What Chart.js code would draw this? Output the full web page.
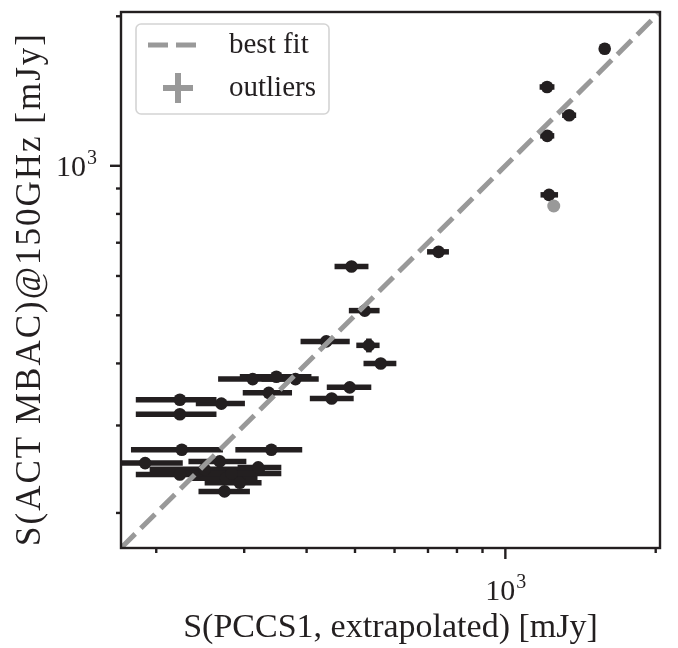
<!DOCTYPE html>
<html>
<head>
<meta charset="utf-8">
<script src="https://cdn.jsdelivr.net/npm/chart.js@4.4.1/dist/chart.umd.min.js"></script>
<style>
  html, body { margin: 0; padding: 0; background: #ffffff; }
  #wrap { width: 678px; height: 648px; }
</style>
</head>
<body>
<div id="wrap"><canvas id="chart"></canvas></div>
<script>
// fluxos (mJy)
const pccsFlux = [1581, 1212, 1342, 1213, 1223, 735, 492, 523, 438, 533, 563, 312, 348, 380, 336, 488,
    449, 270, 223, 223, 225, 340, 190, 223, 268, 276, 320, 274, 250, 294, 283]
const actFlux = [1721, 1441, 1264, 1149, 874, 671, 627, 511, 443, 435, 400, 372, 376, 372, 349, 358,
    340, 332, 338, 316, 268, 268, 252, 239, 254, 235, 247, 221, 245, 230, 240]
const pccsLow = [1545, 1171, 1299, 1174, 1176, 697, 455, 486, 389, 503, 520, 266, 294, 325, 298, 439,
    406, 240, 182, 182, 178, 288, 160, 182, 232, 233, 291, 243, 194, 250, 218]
const pccsHigh = [1618, 1254, 1386, 1253, 1275, 771, 532, 560, 488, 560, 605, 370, 409, 423, 374, 539,
    497, 301, 264, 264, 272, 392, 226, 263, 303, 319, 356, 308, 330, 325, 356]
const actLow = [1680, 1441, 1264, 1149, 874, 671, 627, 511, 443, 421, 400, 372, 376, 372, 349, 358,
    340, 332, 338, 316, 268, 268, 252, 239, 254, 235, 247, 221, 245, 230, 240]
const actHigh = [1765, 1441, 1264, 1149, 874, 671, 627, 511, 443, 449, 400, 372, 376, 372, 349, 358,
    340, 332, 338, 316, 268, 268, 252, 239, 254, 235, 247, 221, 245, 230, 240]

const outlierX = [1250]
const outlierY = [830]

const bestFitX = [170, 2040]
const bestFitY = [170, 2040]

const axisMin = 170
const axisMax = 2040
const labeledTick = 1000

const corPonto = '#231f20'
const corCinza = '#999999'
const fonteSerif = '"Liberation Serif", "DejaVu Serif", serif'

function montarPontos(xs, ys) {
    return xs.map((x, i) => ({ x: x, y: ys[i] }))
}

// barras de erro desenhadas pelas escalas do próprio chart
const errorBarsPlugin = {
    id: 'errorBars',
    beforeDatasetsDraw(chart) {
        const { ctx, chartArea, scales } = chart
        ctx.save()
        ctx.beginPath()
        ctx.rect(chartArea.left, chartArea.top, chartArea.width, chartArea.height)
        ctx.clip()
        ctx.strokeStyle = corPonto
        ctx.lineWidth = 5.5
        ctx.lineCap = 'butt'
        pccsFlux.forEach((x, i) => {
            const py = scales.y.getPixelForValue(actFlux[i])
            ctx.beginPath()
            ctx.moveTo(scales.x.getPixelForValue(pccsLow[i]), py)
            ctx.lineTo(scales.x.getPixelForValue(pccsHigh[i]), py)
            ctx.stroke()
            if (actLow[i] !== actHigh[i]) {
                const px = scales.x.getPixelForValue(x)
                ctx.beginPath()
                ctx.moveTo(px, scales.y.getPixelForValue(actLow[i]))
                ctx.lineTo(px, scales.y.getPixelForValue(actHigh[i]))
                ctx.stroke()
            }
        })
        ctx.restore()
    }
}

// rótulo 10^3 com expoente menor
function desenharPotencia(ctx, xDireita, baseline) {
    ctx.font = '30px ' + fonteSerif
    const wBase = ctx.measureText('10').width
    ctx.font = '20px ' + fonteSerif
    const wExp = ctx.measureText('3').width
    const x0 = xDireita - wBase - wExp
    ctx.font = '30px ' + fonteSerif
    ctx.fillText('10', x0, baseline)
    ctx.font = '20px ' + fonteSerif
    ctx.fillText('3', x0 + wBase + 1, baseline - 12)
}

// moldura, ticks de log, rótulos e legenda no estilo matplotlib
const frameLegendPlugin = {
    id: 'frameLegend',
    beforeDraw(chart) {
        const { ctx } = chart
        ctx.save()
        ctx.fillStyle = '#ffffff'
        ctx.fillRect(0, 0, chart.width, chart.height)
        ctx.restore()
    },
    afterDraw(chart) {
        const { ctx, chartArea, scales } = chart
        const { left, right, top, bottom } = chartArea
        ctx.save()
        ctx.strokeStyle = corPonto
        ctx.lineWidth = 2.4

        const ehTick = v => {
            const m = v / Math.pow(10, Math.floor(Math.log10(v) + 1e-9))
            return Math.abs(m - Math.round(m)) < 1e-6
        }
        const ehMaior = v => Math.abs(Math.log10(v) - Math.round(Math.log10(v))) < 1e-9

        scales.x.ticks.forEach(t => {
            if (!ehTick(t.value)) return
            const px = scales.x.getPixelForValue(t.value)
            if (px < left - 1 || px > right + 1) return
            ctx.beginPath()
            ctx.moveTo(px, bottom)
            ctx.lineTo(px, bottom + (ehMaior(t.value) ? 11 : 5))
            ctx.stroke()
        })
        scales.y.ticks.forEach(t => {
            if (!ehTick(t.value)) return
            const py = scales.y.getPixelForValue(t.value)
            if (py < top - 1 || py > bottom + 1) return
            ctx.beginPath()
            ctx.moveTo(left, py)
            ctx.lineTo(left - (ehMaior(t.value) ? 11 : 5), py)
            ctx.stroke()
        })

        ctx.strokeRect(left, top, right - left, bottom - top)

        // rótulos dos ticks maiores
        ctx.fillStyle = corPonto
        ctx.textAlign = 'left'
        ctx.textBaseline = 'alphabetic'
        const tx = scales.x.getPixelForValue(labeledTick)
        desenharPotencia(ctx, tx + 20, 600)
        const ty = scales.y.getPixelForValue(labeledTick)
        desenharPotencia(ctx, left - 25, ty + 10)

        // título do eixo y
        ctx.save()
        ctx.translate(31, 289)
        ctx.rotate(-Math.PI / 2)
        ctx.font = '35px ' + fonteSerif
        if ('letterSpacing' in ctx) ctx.letterSpacing = '2px'
        ctx.textAlign = 'center'
        ctx.textBaseline = 'middle'
        ctx.fillText('S(ACT MBAC)@150GHz [mJy]', 0, 0)
        ctx.restore()

        // legenda
        const lx = 136, ly = 24, lw = 193, lh = 90, r = 5
        ctx.beginPath()
        ctx.moveTo(lx + r, ly)
        ctx.arcTo(lx + lw, ly, lx + lw, ly + lh, r)
        ctx.arcTo(lx + lw, ly + lh, lx, ly + lh, r)
        ctx.arcTo(lx, ly + lh, lx, ly, r)
        ctx.arcTo(lx, ly, lx + lw, ly, r)
        ctx.closePath()
        ctx.fillStyle = 'rgba(255,255,255,0.85)'
        ctx.fill()
        ctx.strokeStyle = '#d4d4d4'
        ctx.lineWidth = 1.6
        ctx.stroke()

        ctx.strokeStyle = corCinza
        ctx.lineWidth = 5
        ctx.setLineDash([20, 8])
        ctx.beginPath()
        ctx.moveTo(148, 45)
        ctx.lineTo(201, 45)
        ctx.stroke()
        ctx.setLineDash([])

        ctx.lineWidth = 6
        ctx.beginPath()
        ctx.moveTo(163, 88)
        ctx.lineTo(193, 88)
        ctx.moveTo(178, 73)
        ctx.lineTo(178, 103)
        ctx.stroke()

        ctx.fillStyle = corPonto
        ctx.font = '29px ' + fonteSerif
        ctx.textBaseline = 'middle'
        ctx.textAlign = 'left'
        ctx.fillText('best fit', 229, 45)
        ctx.fillText('outliers', 229, 88)
        ctx.restore()
    }
}

const zeraPadding = s => {
    s.paddingTop = 0
    s.paddingBottom = 0
    s.paddingLeft = 0
    s.paddingRight = 0
}

const ctx = document.getElementById('chart').getContext('2d')

new Chart(ctx, {
    type: 'scatter',
    data: {
        datasets: [
            {
                label: 'best fit',
                data: montarPontos(bestFitX, bestFitY),
                showLine: true,
                borderColor: corCinza,
                borderWidth: 5,
                borderDash: [20, 8],
                pointRadius: 0,
                fill: false
            },
            {
                label: 'outliers',
                data: montarPontos(outlierX, outlierY),
                pointRadius: 6.5,
                pointBackgroundColor: corCinza,
                pointBorderWidth: 0
            },
            {
                label: 'fontes',
                data: montarPontos(pccsFlux, actFlux),
                pointRadius: 6.3,
                pointBackgroundColor: corPonto,
                pointBorderWidth: 0
            }
        ]
    },
    options: {
        responsive: true,
        maintainAspectRatio: false,
        animation: false,
        layout: {
            padding: { top: 12, right: 18, left: 0, bottom: 0 }
        },
        scales: {
            x: {
                type: 'logarithmic',
                min: axisMin,
                max: axisMax,
                grid: { display: false },
                border: { display: false },
                ticks: { display: false, autoSkip: false },
                title: {
                    display: true,
                    text: 'S(PCCS1, extrapolated) [mJy]',
                    color: corPonto,
                    font: { family: fonteSerif, size: 34 },
                    padding: { top: 0, bottom: 0 }
                },
                afterFit: s => {
                    s.height = 100
                    zeraPadding(s)
                }
            },
            y: {
                type: 'logarithmic',
                min: axisMin,
                max: axisMax,
                grid: { display: false },
                border: { display: false },
                ticks: { display: false, autoSkip: false },
                title: { display: false },
                afterFit: s => {
                    s.width = 121
                    zeraPadding(s)
                }
            }
        },
        plugins: {
            legend: { display: false },
            tooltip: { enabled: false }
        }
    },
    plugins: [errorBarsPlugin, frameLegendPlugin]
})
</script>
</body>
</html>
